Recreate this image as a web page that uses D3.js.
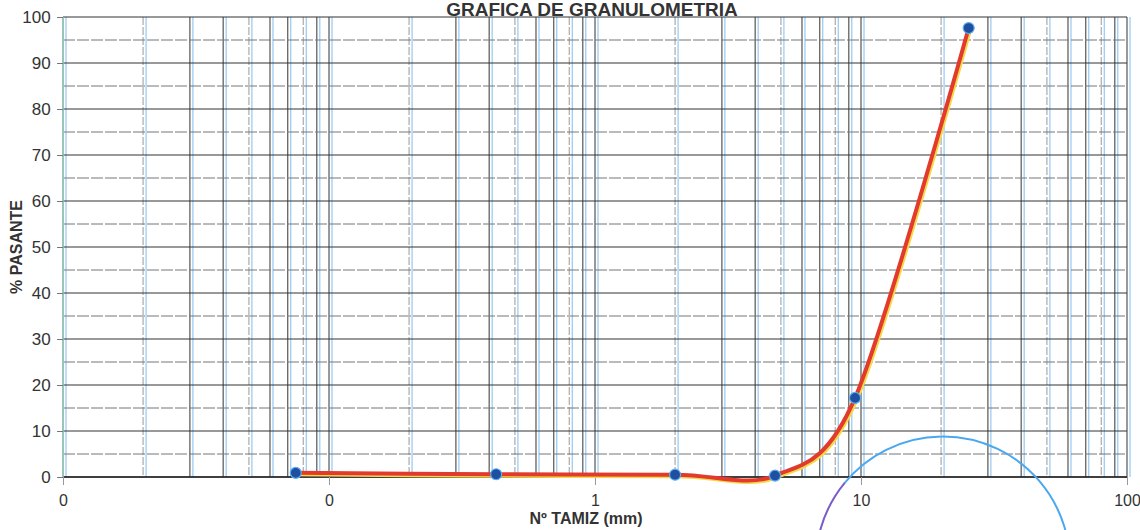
<!DOCTYPE html>
<html>
<head>
<meta charset="utf-8">
<script src="https://cdn.jsdelivr.net/npm/d3@7"></script>
<style>
  body { margin: 0; background: #fff; }
  svg { font-family: Arial, "Liberation Sans", sans-serif; }
</style>
</head>
<body>
<svg width="1140" height="530"></svg>
<script>
// sieve openings (mm) and percent passing
const tamiz = [0.075, 0.425, 2.0, 4.75, 9.5, 25.4];
const pasante = [0.9, 0.6, 0.5, 0.3, 17.2, 97.6];

const xTicks = [0.01, 0.1, 1, 10, 100];
const xTickLabels = ['0', '0', '1', '10', '100'];
const yTicks = [0, 10, 20, 30, 40, 50, 60, 70, 80, 90, 100];

// hand drawn circle on the scan (centre in data units)
const circleCentre = [20.3, -18.8];

const svg = d3.select('svg');

const x = d3.scaleLog().domain([0.01, 100]).range([63, 1127]);
const y = d3.scaleLinear().domain([0, 100]).range([477, 17]);

// vertical grid: 1..9 in each decade
const minor = [];
[0.01, 0.1, 1, 10].forEach(d => {
  for (let k = 1; k < 10; k++) minor.push(+(d * k).toPrecision(3));
});
minor.push(100);

const grid = svg.append('g');

grid.selectAll('.vblue')
  .data(minor)
  .enter()
  .append('line')
  .attr('class', 'vblue')
  .attr('x1', d => x(d) + 3)
  .attr('x2', d => x(d) + 3)
  .attr('y1', y(100))
  .attr('y2', y(0))
  .attr('stroke', '#7fbdf0')
  .attr('stroke-width', 1);

grid.selectAll('.vline')
  .data(minor)
  .enter()
  .append('line')
  .attr('class', 'vline')
  .attr('x1', d => x(d))
  .attr('x2', d => x(d))
  .attr('y1', y(100))
  .attr('y2', y(0))
  .attr('stroke', (d, i) => i % 3 === 1 ? '#999' : '#333')
  .attr('stroke-dasharray', (d, i) => i % 3 === 1 ? '8,2' : null)
  .attr('stroke-width', 1);

const hGrid = d3.range(0, 101, 5);
grid.selectAll('.hline')
  .data(hGrid)
  .enter()
  .append('line')
  .attr('class', 'hline')
  .attr('x1', x(0.01))
  .attr('x2', x(100))
  .attr('y1', d => y(d))
  .attr('y2', d => y(d))
  .attr('stroke', d => d % 10 === 0 ? '#333' : '#777')
  .attr('stroke-dasharray', d => d % 10 === 0 ? null : '12,2')
  .attr('stroke-width', 1);

// axes
svg.append('line')
  .attr('x1', x(0.01)).attr('x2', x(100))
  .attr('y1', y(0)).attr('y2', y(0))
  .attr('stroke', '#222').attr('stroke-width', 1.5);
svg.append('line')
  .attr('x1', x(0.01)).attr('x2', x(0.01))
  .attr('y1', y(100)).attr('y2', y(0))
  .attr('stroke', '#9bd3c0').attr('stroke-width', 1.5);

const xAxis = svg.append('g')
  .attr('transform', `translate(0,${y(0)})`)
  .call(d3.axisBottom(x).tickValues(xTicks).tickSize(8)
    .tickFormat((d, i) => xTickLabels[i]));
xAxis.select('.domain').remove();
xAxis.selectAll('line').attr('stroke', '#999');
xAxis.selectAll('text')
  .attr('font-size', 16)
  .attr('fill', '#333')
  .attr('dy', '1.15em');

const yAxis = svg.append('g')
  .attr('transform', `translate(${x(0.01)},0)`)
  .call(d3.axisLeft(y).tickValues(yTicks).tickSize(6));
yAxis.select('.domain').remove();
yAxis.selectAll('line').attr('stroke', '#777');
yAxis.selectAll('text')
  .attr('font-size', 17)
  .attr('fill', '#333')
  .attr('dx', '-0.2em');

// titles
svg.append('text')
  .attr('x', 592).attr('y', 16)
  .attr('text-anchor', 'middle')
  .attr('font-size', 19).attr('font-weight', 'bold')
  .attr('fill', '#333')
  .text('GRAFICA DE GRANULOMETRIA');

svg.append('text')
  .attr('transform', `translate(22,${y(50)}) rotate(-90)`)
  .attr('text-anchor', 'middle')
  .attr('font-size', 16).attr('font-weight', 'bold')
  .attr('fill', '#333')
  .text('% PASANTE');

svg.append('text')
  .attr('x', 586).attr('y', 524)
  .attr('text-anchor', 'middle')
  .attr('font-size', 16).attr('font-weight', 'bold')
  .attr('fill', '#333')
  .text('Nº TAMIZ (mm)');

// curve
const pts = tamiz.map((d, i) => [d, pasante[i]]);
const line = d3.line()
  .x(d => x(d[0]))
  .y(d => y(d[1]))
  .curve(d3.curveCardinal.tension(0.1));

svg.append('path')
  .datum(pts)
  .attr('d', line)
  .attr('fill', 'none')
  .attr('stroke', '#f5d84a')
  .attr('stroke-width', 4)
  .attr('transform', 'translate(1.5,1.5)');

svg.append('path')
  .datum(pts)
  .attr('d', line)
  .attr('fill', 'none')
  .attr('stroke', '#e23a2c')
  .attr('stroke-width', 4);

svg.selectAll('.pt')
  .data(pts)
  .enter()
  .append('circle')
  .attr('class', 'pt')
  .attr('cx', d => x(d[0]))
  .attr('cy', d => y(d[1]))
  .attr('r', 5.5)
  .attr('fill', '#1f4fa0')
  .attr('stroke', '#5aaef0')
  .attr('stroke-width', 1.2);

// scribbled circle
const cg = svg.append('g')
  .attr('transform', `translate(${x(circleCentre[0])},${y(circleCentre[1])})`);
const r = 127;
cg.append('path')
  .attr('d', d3.arc().innerRadius(r).outerRadius(r).startAngle(-0.88).endAngle(2.6)())
  .attr('fill', 'none')
  .attr('stroke', '#4aa8f0')
  .attr('stroke-width', 2);
cg.append('path')
  .attr('d', d3.arc().innerRadius(r).outerRadius(r).startAngle(-2.6).endAngle(-0.88)())
  .attr('fill', 'none')
  .attr('stroke', '#7a5cc8')
  .attr('stroke-width', 2);
</script>
</body>
</html>
